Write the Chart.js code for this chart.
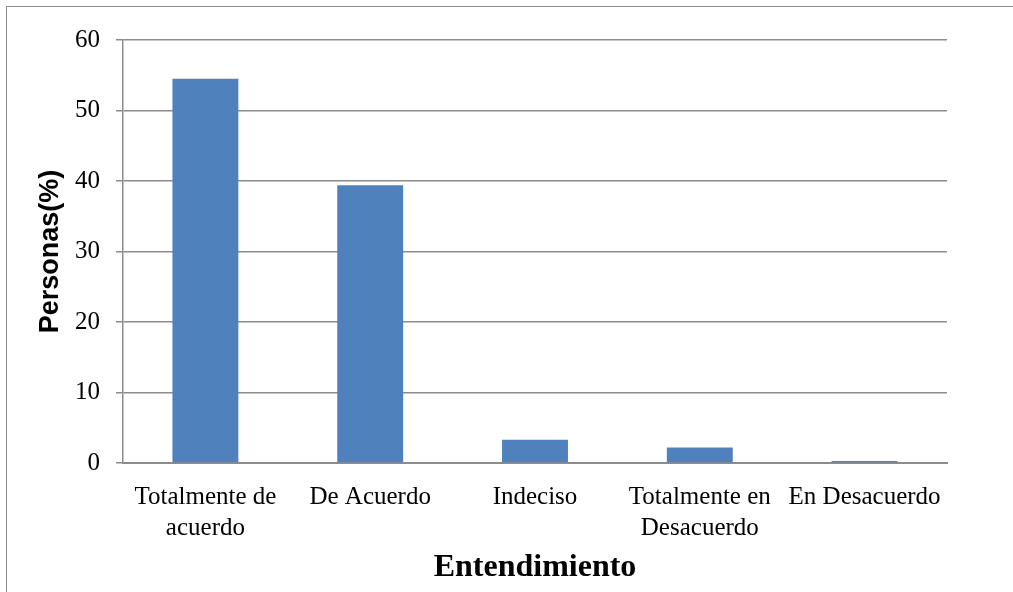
<!DOCTYPE html>
<html lang="es">
<head>
  <meta charset="UTF-8">
  <title>Entendimiento</title>
  <script src="https://cdn.jsdelivr.net/npm/chart.js"></script>
  <style>
    html, body { margin: 0; padding: 0; background: #fff; overflow: hidden; }
    #frame { position: absolute; left: 6px; top: 6px; width: 1020px; height: 600px;
             border: 1px solid #8c8c8c; box-sizing: border-box; }
    #chart { position: absolute; left: 0; top: 0; }
  </style>
</head>
<body>
<div id="frame"></div>
<canvas id="chart" width="1013" height="592"></canvas>
<script>
const categories = [
  ['Totalmente de', 'acuerdo'],
  'De Acuerdo',
  'Indeciso',
  ['Totalmente en', 'Desacuerdo'],
  'En Desacuerdo'
];
const personas = [54.5, 39.4, 3.3, 2.2, 0.3];
const yTicks = [0, 10, 20, 30, 40, 50, 60];

const serif = "'Liberation Serif', 'Times New Roman', serif";
const gridGray = '#8c8c8c';

new Chart(document.getElementById('chart').getContext('2d'), {
  type: 'bar',
  data: {
    labels: categories,
    datasets: [{
      label: 'Personas(%)',
      data: personas,
      backgroundColor: '#4f81bd',
      borderWidth: 0,
      categoryPercentage: 1,
      barPercentage: 0.4
    }]
  },
  options: {
    responsive: false,
    animation: false,
    devicePixelRatio: 1,
    layout: { padding: { left: 0, right: 66, top: 40, bottom: 0 } },
    plugins: { legend: { display: false }, tooltip: { enabled: false } },
    scales: {
      y: {
        min: 0, max: 60,
        afterBuildTicks: s => { s.ticks = yTicks.map(v => ({ value: v })); },
        afterFit: s => { s.width = 123; },
        border: { color: gridGray, width: 1.5 },
        grid: { color: gridGray, lineWidth: 1.5, tickLength: 7, drawTicks: true },
        ticks: { color: '#000', padding: 16, font: { family: serif, size: 25 } },
        title: {
          display: true, text: 'Personas(%)', color: '#000',
          padding: { top: 34, bottom: 0 },
          font: { family: "'Liberation Sans', Arial, sans-serif", size: 27, weight: 'bold' }
        }
      },
      x: {
        afterFit: s => { s.height = 129; },
        border: { color: gridGray, width: 2 },
        grid: { display: false },
        ticks: { color: '#000', padding: 11, maxRotation: 0, autoSkip: false,
                 font: { family: serif, size: 25, lineHeight: 1.25 } },
        title: {
          display: true, text: 'Entendimiento', color: '#000',
          padding: { top: 0, bottom: 5 },
          font: { family: serif, size: 32, weight: 'bold' }
        }
      }
    }
  }
});
</script>
</body>
</html>
